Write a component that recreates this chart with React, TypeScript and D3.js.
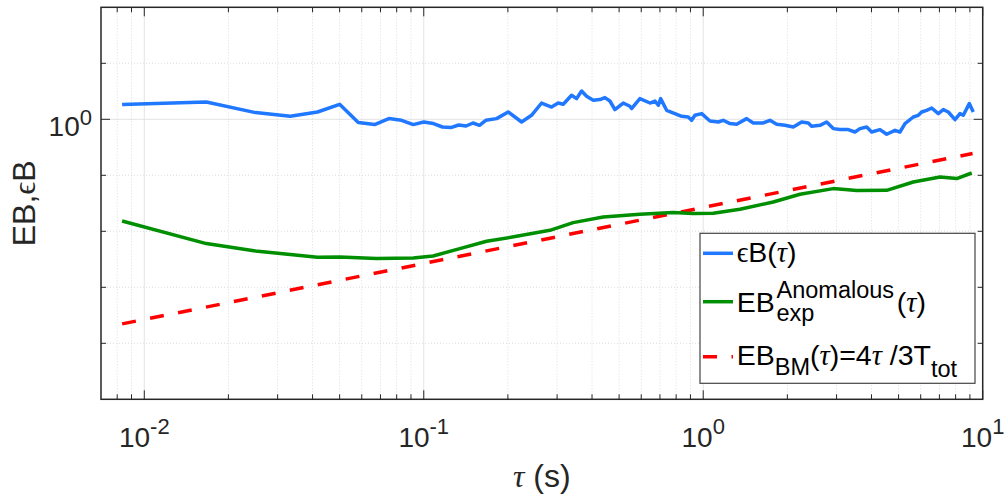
import React from 'react';
import * as d3 from 'd3';

const W = 1004;
const H = 495;

// epsilon-B(tau) (blue)
const tauEB = [0.00833,0.01667,0.025,0.0333,0.04167,0.05,0.0583,0.0667,0.075,0.0833,0.0917,0.1,0.1083,0.1167,0.125,0.1333,0.1417,0.15,0.1583,0.1667,0.1822,0.2005,0.2239,0.243,0.264,0.2867,0.3027,0.3155,0.338,0.3522,0.3671,0.3826,0.404,0.4269,0.4448,0.4635,0.4831,0.5172,0.5465,0.5541,0.5934,0.6447,0.6718,0.6903,0.7041,0.7396,0.7919,0.837,0.8837,0.9089,0.934,0.987,1.057,1.132,1.179,1.246,1.317,1.43,1.51,1.64,1.733,1.831,1.961,2.1,2.25,2.376,2.443,2.617,2.765,2.92,3.085,3.304,3.491,3.638,3.845,4.006,4.29,4.533,4.855,5.058,5.271,5.644,5.882,6.05,6.304,6.569,6.936,7.228,7.532,7.96,8.293,8.523,8.954,9.254];
const valEB = [1.83,2.04,1.317,1.131,1.35,1.853,0.873,0.804,1.029,0.96,0.804,0.895,0.838,0.729,0.711,0.791,0.759,0.859,0.781,0.96,1.029,1.35,0.895,1.179,1.954,1.658,1.954,1.853,2.683,2.342,3.202,2.575,2.184,2.248,2.441,2.122,1.49,1.954,1.707,1.553,2.342,1.954,2.122,1.778,2.342,1.448,1.264,1.131,1.099,0.96,1.179,1.264,0.932,0.895,0.96,0.838,0.814,1.029,0.859,0.859,0.96,0.814,0.781,0.729,0.895,0.859,0.75,0.781,0.895,0.682,0.655,0.655,0.593,0.682,0.729,0.593,0.655,0.54,0.636,0.593,0.838,1.099,1.179,1.35,1.448,1.591,1.264,1.49,1.35,0.988,1.264,1.179,1.907,1.35];

// EB_exp^Anomalous(tau) (green)
const tauExp = [0.00833,0.01667,0.025,0.0333,0.04167,0.05,0.0678,0.0917,0.108,0.1346,0.1678,0.2148,0.2827,0.3425,0.4385,0.5934,0.781,0.921,1.086,1.353,1.78,2.219,2.92,3.54,4.533,5.644,7.035,8.072,9.134];
const valExp = [0.01528,0.00603,0.004446,0.003853,0.003433,0.003475,0.003254,0.003336,0.003622,0.004909,0.006629,0.008138,0.01042,0.01429,0.018,0.02012,0.02158,0.0207,0.02097,0.02471,0.03336,0.0458,0.05787,0.0533,0.05395,0.07594,0.09324,0.0873,0.1099];

// EB_BM(tau) = 4 tau / 3 T_tot (red dashed), end points
const tauBM = [0.00833, 9.2];
const valBM = [0.000222, 0.245];

const xTickVals = [0.01, 0.1, 1, 10];
const xTickExps = ['-2', '-1', '0', '1'];
const yTickVals = [1];
const yTickExps = ['0'];
const yMinorVals = [1e-4, 1e-3, 1e-2, 1e-1, 10];

const COL_EB = '#1f78ff';
const COL_EXP = '#008f00';
const COL_BM = '#ff0000';

const FONT = "'Liberation Sans', Arial, Helvetica, sans-serif";
const GFONT = "'Liberation Serif', 'DejaVu Serif', serif";

export default function App() {
  const x0 = 101, x1 = 982.7, y0 = 7.3, y1 = 399.3;
  const x = d3.scaleLog().domain([0.007, 10]).range([x0, x1]);
  const y = d3.scaleLog().domain([1e-5, 1e2]).range([y1, y0]);

  const xMinor: number[] = [];
  for (let d = -3; d <= 0; d++) {
    for (let k = 2; k <= 9; k++) {
      const v = k * Math.pow(10, d);
      if (v > 0.007 + 1e-9 && v < 10) xMinor.push(v);
    }
  }

  const line = d3.line<[number, number]>().x(d => x(d[0])).y(d => y(d[1]));
  const dEB = line(tauEB.map((t, i) => [t, valEB[i]] as [number, number])) || '';
  const dExp = line(tauExp.map((t, i) => [t, valExp[i]] as [number, number])) || '';
  const dBM = line(tauBM.map((t, i) => [t, valBM[i]] as [number, number])) || '';

  const axisCol = '#262626';
  const majL = 9, minL = 5;

  const lx = 700, ly = 233.3, lw = 275, lh = 150;
  const sx0 = 703, sx1 = 733, tx = 736.7;
  const LF = 28.5, LS = 23.5;

  return (
    <svg width={W} height={H} style={{ position: 'absolute', left: 0, top: 0, background: '#fff' }} fontFamily={FONT}>
      <rect x={0} y={0} width={W} height={H} fill="#fff" />
      {/* grid */}
      {xMinor.map((v, i) => (
        <line key={'gxm' + i} x1={x(v)} x2={x(v)} y1={y0} y2={y1} stroke="#d4d4d4" strokeWidth={0.8} strokeDasharray="1,2" />
      ))}
      {yMinorVals.map((v, i) => (
        <line key={'gym' + i} x1={x0} x2={x1} y1={y(v)} y2={y(v)} stroke="#d4d4d4" strokeWidth={0.8} strokeDasharray="1,2" />
      ))}
      {xTickVals.map((v, i) => (
        <line key={'gx' + i} x1={x(v)} x2={x(v)} y1={y0} y2={y1} stroke="#e3e3e3" strokeWidth={1} />
      ))}
      {yTickVals.map((v, i) => (
        <line key={'gy' + i} x1={x0} x2={x1} y1={y(v)} y2={y(v)} stroke="#e3e3e3" strokeWidth={1} />
      ))}

      {/* data */}
      <path d={dBM} fill="none" stroke={COL_BM} strokeWidth={3.5} strokeDasharray="14,14.5" />
      <path d={dExp} fill="none" stroke={COL_EXP} strokeWidth={3.5} strokeLinejoin="round" />
      <path d={dEB} fill="none" stroke={COL_EB} strokeWidth={3.5} strokeLinejoin="round" />

      {/* axes box */}
      <rect x={x0} y={y0} width={x1 - x0} height={y1 - y0} fill="none" stroke={axisCol} strokeWidth={1.5} />
      {xTickVals.map((v, i) => (
        <g key={'xt' + i}>
          <line x1={x(v)} x2={x(v)} y1={y1} y2={y1 - majL} stroke={axisCol} strokeWidth={1} />
          <line x1={x(v)} x2={x(v)} y1={y0} y2={y0 + majL} stroke={axisCol} strokeWidth={1} />
        </g>
      ))}
      {xMinor.map((v, i) => (
        <g key={'xm' + i}>
          <line x1={x(v)} x2={x(v)} y1={y1} y2={y1 - minL} stroke={axisCol} strokeWidth={1} />
          <line x1={x(v)} x2={x(v)} y1={y0} y2={y0 + minL} stroke={axisCol} strokeWidth={1} />
        </g>
      ))}
      {yTickVals.map((v, i) => (
        <g key={'yt' + i}>
          <line x1={x0} x2={x0 + majL} y1={y(v)} y2={y(v)} stroke={axisCol} strokeWidth={1} />
          <line x1={x1} x2={x1 - majL} y1={y(v)} y2={y(v)} stroke={axisCol} strokeWidth={1} />
        </g>
      ))}
      {yMinorVals.map((v, i) => (
        <g key={'ym' + i}>
          <line x1={x0} x2={x0 + minL} y1={y(v)} y2={y(v)} stroke={axisCol} strokeWidth={1} />
          <line x1={x1} x2={x1 - minL} y1={y(v)} y2={y(v)} stroke={axisCol} strokeWidth={1} />
        </g>
      ))}

      {/* tick labels */}
      {xTickVals.map((v, i) => (
        <text key={'xl' + i} x={x(v)} y={446.7} textAnchor="middle" fontSize={28} fill="#262626">
          10<tspan dy={-13} fontSize={22}>{xTickExps[i]}</tspan>
        </text>
      ))}
      {yTickVals.map((v, i) => (
        <text key={'yl' + i} x={92} y={y(v) + 17} textAnchor="end" fontSize={28} fill="#262626">
          10<tspan dy={-11} fontSize={22}>{yTickExps[i]}</tspan>
        </text>
      ))}

      {/* axis labels */}
      <text x={(x0 + x1) / 2} y={487} textAnchor="middle" fontSize={32} fill="#262626">
        <tspan fontFamily={GFONT} fontStyle="italic">τ</tspan> (s)
      </text>
      <text transform={`translate(35,${(y0 + y1) / 2}) rotate(-90)`} textAnchor="middle" fontSize={32} fill="#262626">
        EB,<tspan fontFamily={GFONT}>ϵ</tspan>B
      </text>

      {/* legend */}
      <rect x={lx} y={ly} width={lw} height={lh} fill="#fff" stroke="#444" strokeWidth={1.2} />
      <line x1={sx0} x2={sx1} y1={253.3} y2={253.3} stroke={COL_EB} strokeWidth={3.5} />
      <line x1={sx0} x2={sx1} y1={301.7} y2={301.7} stroke={COL_EXP} strokeWidth={3.5} />
      <line x1={sx0} x2={sx1} y1={356.7} y2={356.7} stroke={COL_BM} strokeWidth={3.5} strokeDasharray="14,14.5" />

      <text x={tx} y={261.7} fontSize={LF} fill="#000">
        <tspan fontFamily={GFONT}>ϵ</tspan>B(<tspan fontFamily={GFONT} fontStyle="italic">τ</tspan>)
      </text>

      <text x={tx} y={311.7} fontSize={LF} fill="#000">EB</text>
      <text x={776.5} y={298} fontSize={LS} fill="#000">Anomalous</text>
      <text x={776.5} y={321} fontSize={LS} fill="#000">exp</text>
      <text x={896.7} y={311.7} fontSize={LF} fill="#000">
        (<tspan fontFamily={GFONT} fontStyle="italic">τ</tspan>)
      </text>

      <text x={tx} y={365} fontSize={LF} fill="#000">
        EB<tspan dy={10} fontSize={LS}>BM</tspan><tspan dy={-10}>(</tspan><tspan fontFamily={GFONT} fontStyle="italic">τ</tspan>)=4<tspan fontFamily={GFONT} fontStyle="italic">τ</tspan> /3T<tspan dy={11.7} fontSize={LS}>tot</tspan>
      </text>
    </svg>
  );
}
